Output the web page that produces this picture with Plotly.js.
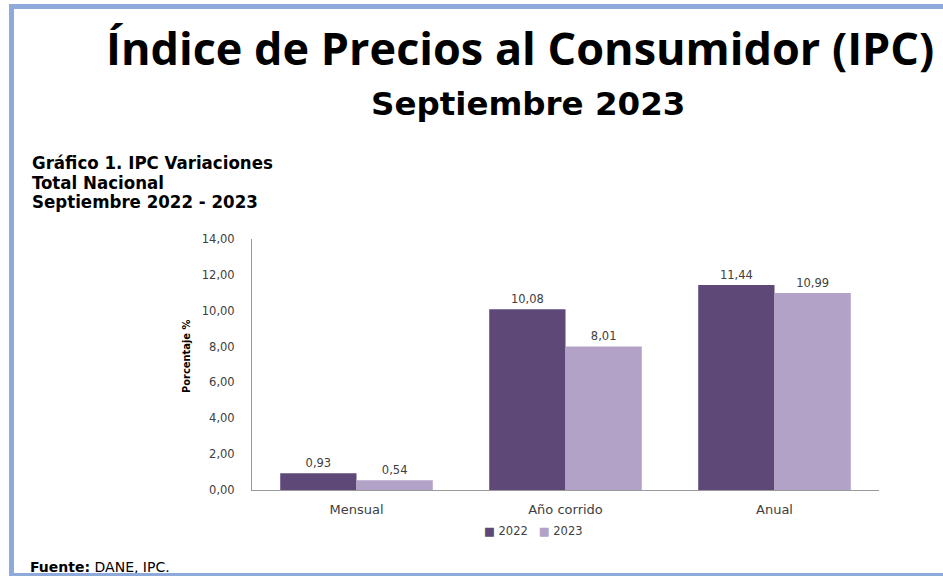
<!DOCTYPE html>
<html>
<head>
<meta charset="utf-8">
<script src="https://cdn.plot.ly/plotly-3.0.1.min.js"></script>
<style>
  html, body { margin: 0; padding: 0; background: #fff; }
  #wrap { position: relative; width: 943px; height: 576px; overflow: hidden; }
  #chart { position: absolute; left: 0; top: 0; width: 943px; height: 576px; }
  .edge { position: absolute; background: #8eaadb; pointer-events: none; }
</style>
</head>
<body>
<div id="wrap">
  <div id="chart"></div>
  <div class="edge" style="left:9px;top:4px;width:934px;height:5px;"></div>
  <div class="edge" style="left:9px;top:4px;width:5px;height:572px;"></div>
  <div class="edge" style="left:9px;top:573px;width:934px;height:3px;"></div>
</div>
<script>
const categories = ["Mensual", "Año corrido", "Anual"];
const values2022 = [0.93, 10.08, 11.44];
const values2023 = [0.54, 8.01, 10.99];
const seriesNames = ["2022", "2023"];
const seriesColors = ["#5e4878", "#b3a2c7"];
const yTicks = [0, 2, 4, 6, 8, 10, 12, 14];

const TITLE_FONT = "Open Sans, Noto Sans, sans-serif";
const WIDE_FONT = "DejaVu Sans, Noto Sans, sans-serif";
const NARROW_FONT = "DejaVu Sans Condensed, Liberation Sans Narrow, Noto Sans, sans-serif";

// plot area in pixels
const M = { l: 252, r: 64, t: 239, b: 86 };
const PW = 943 - M.l - M.r;
const PH = 576 - M.t - M.b;
const px = x => (x - M.l) / PW;
const py = y => (576 - M.b - y) / PH;

function fmt(v) {
  return v.toFixed(2).replace(".", ",");
}

function barTrace(i, values) {
  return {
    type: "bar",
    name: seriesNames[i],
    x: categories,
    y: values,
    text: values.map(fmt),
    textposition: "outside",
    cliponaxis: false,
    textfont: { family: WIDE_FONT, size: 11.5, color: "#404040" },
    marker: { color: seriesColors[i] },
    hoverinfo: "skip"
  };
}

const traces = [barTrace(0, values2022), barTrace(1, values2023)];

function note(text, x, y, anchor, font, extra) {
  return Object.assign({
    text: text, xref: "paper", yref: "paper",
    x: px(x), y: py(y), xanchor: anchor, yanchor: "middle",
    showarrow: false, font: font
  }, extra || {});
}

const headFont = { family: NARROW_FONT, size: 18.5, color: "#000000" };

const legendText = seriesNames.map((n, i) =>
  "<span style=\"color:" + seriesColors[i] + "\">■</span> " + n
).join("   ");

const layout = {
  width: 943,
  height: 576,
  paper_bgcolor: "#ffffff",
  plot_bgcolor: "#ffffff",
  separators: ",.",
  margin: M,
  barmode: "group",
  bargap: 0.27,
  bargroupgap: 0,
  showlegend: false,
  font: { family: WIDE_FONT, size: 11, color: "#404040" },
  xaxis: {
    showline: true,
    linecolor: "#999999",
    linewidth: 1,
    showgrid: false,
    ticks: "",
    ticklabelstandoff: 7,
    tickfont: { family: WIDE_FONT, size: 13, color: "#404040" }
  },
  yaxis: {
    range: [0, 14],
    tickvals: yTicks,
    tickformat: ".2f",
    showline: true,
    linecolor: "#999999",
    linewidth: 1,
    showgrid: false,
    zeroline: false,
    ticks: "",
    ticklabelstandoff: 14,
    tickfont: { family: WIDE_FONT, size: 11.5, color: "#404040" }
  },
  annotations: [
    note("<b>Índice de Precios al Consumidor (IPC)</b>", 104, 47, "left",
      { family: TITLE_FONT, size: 45, color: "#000000" }),
    note("<b>Septiembre 2023</b>", 528, 104, "center",
      { family: WIDE_FONT, size: 32.5, color: "#000000" }),
    note("<b>Gráfico 1. IPC Variaciones</b>", 30, 162, "left", headFont),
    note("<b>Total Nacional</b>", 30, 182, "left", headFont),
    note("<b>Septiembre 2022 - 2023</b>", 30, 202, "left", headFont),
    note("<b>Porcentaje %</b>", 186, 356, "center",
      { family: NARROW_FONT, size: 11, color: "#000000" }, { textangle: -90 }),
    note(legendText, 482, 531, "left",
      { family: WIDE_FONT, size: 11.5, color: "#404040" }),
    note("<b>Fuente:</b> DANE, IPC.", 28, 567, "left",
      { family: WIDE_FONT, size: 14, color: "#000000" })
  ]
};

Plotly.newPlot("chart", traces, layout, { displayModeBar: false, staticPlot: true });
</script>
</body>
</html>
